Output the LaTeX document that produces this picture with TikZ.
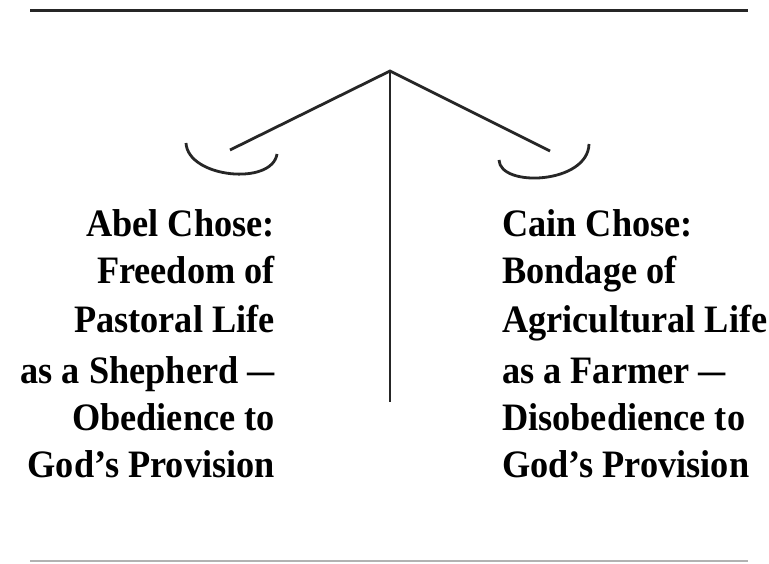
\documentclass[tikz,border=0pt]{standalone}
\usepackage{fontspec}
\usepackage{graphicx}
\setmainfont{Liberation Serif}
\newcommand\talltext[1]{\scalebox{1}[1.07]{#1}}
\tikzset{
  beam/.style={line width=2.8pt, draw=black!85},
  rule/.style={line width=3pt, draw=black!85},
  lightrule/.style={line width=2pt, draw=black!30},
  txt/.style={inner sep=0pt, font=\fontsize{36.3}{48}\selectfont\bfseries, text=black},
}
\begin{document}
\begin{tikzpicture}[x=1pt,y=-1pt]
\useasboundingbox[fill=white] (0,0) rectangle (769,564);
% rules
\coordinate (tl) at (30,11); \coordinate (tr) at (748,11);
\coordinate (bl) at (30,561); \coordinate (br) at (748,561);
\draw[rule] (tl) -- (tr);
\draw[lightrule] (bl) -- (br);
% balance
\coordinate (apex) at (390,71);
\coordinate (foot) at (390,402);
\coordinate (la) at (230,150);
\coordinate (ra) at (550,151);
\draw[beam] (apex) -- (foot);
\draw[beam, line join=miter] (la) -- (apex) -- (ra);
\coordinate (lp1) at (186,143); \coordinate (lp2) at (277,154);
\coordinate (rp1) at (499,160); \coordinate (rp2) at (589,144);
\draw[beam] (lp1) .. controls (188,178) and (272,186) .. (lp2);
\draw[beam] (rp1) .. controls (500,188) and (588,184) .. (rp2);
% left text
\node[txt, anchor=base east] (l1) at (275,237) {\talltext{Abel Chose:}};
\node[txt, anchor=base east] (l2) at (275,284) {\talltext{Freedom of}};
\node[txt, anchor=base east] (l3) at (275,333) {\talltext{Pastoral Life}};
\node[txt, anchor=base east] (l4) at (275,383) {\talltext{as a Shepherd \scalebox{0.75}[1]{—}}\hspace{14pt}};
\node[txt, anchor=base east] (l5) at (275,430) {\talltext{Obedience to}};
\node[txt, anchor=base east] (l6) at (275,477) {\talltext{God’s Provision}};
% right text
\node[txt, anchor=base west] (r1) at (502,237) {\talltext{Cain Chose:}};
\node[txt, anchor=base west] (r2) at (502,284) {\talltext{Bondage of}};
\node[txt, anchor=base west] (r3) at (502,333) {\talltext{Agricultural Life}};
\node[txt, anchor=base west] (r4) at (502,383) {\talltext{as a Farmer \scalebox{0.75}[1]{—}}};
\node[txt, anchor=base west] (r5) at (502,430) {\talltext{Disobedience to}};
\node[txt, anchor=base west] (r6) at (502,477) {\talltext{God’s Provision}};
\end{tikzpicture}
\end{document}
